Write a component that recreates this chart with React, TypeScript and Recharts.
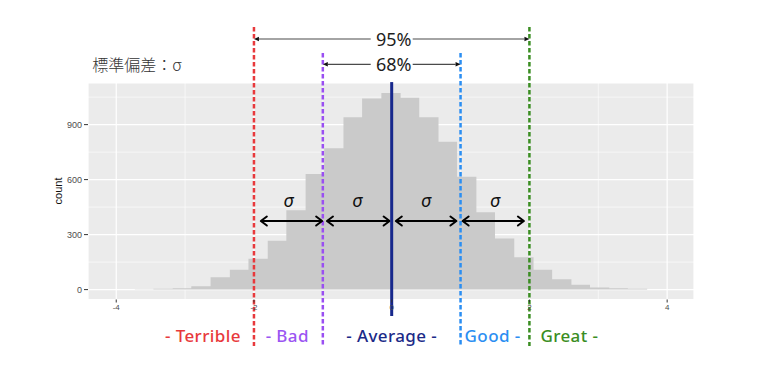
import React from 'react';
import {
  ComposedChart,
  Area,
  XAxis,
  YAxis,
  CartesianGrid,
  ReferenceLine,
  ReferenceDot,
} from 'recharts';

// histogram bins (left edges, last value closes the last bin) and counts
const binEdges = [
  -3.73, -3.46, -3.18, -2.91, -2.63, -2.35, -2.08, -1.8, -1.53, -1.25, -0.98, -0.7, -0.43, -0.15,
  0.13, 0.4, 0.68, 0.95, 1.23, 1.5, 1.78, 2.06, 2.33, 2.61, 2.88, 3.16, 3.43, 3.71,
];
const binCounts = [
  2, 4, 7, 18, 67, 108, 168, 267, 433, 631, 771, 940, 1042, 1073, 1047, 940, 807, 615, 422, 279,
  176, 108, 57, 27, 11, 7, 4,
];

const xTicks = [-4, -2, 0, 2, 4];
const xMinor = [-3, -1, 1, 3];
const yTicks = [0, 300, 600, 900];
const yMinor = [150, 450, 750, 1050];

// standard deviation markers
const sdMarks = [-2, -1, 1, 2];
const sdColors = ['#e8393c', '#9a4ff2', '#2b8ef2', '#3a8d22'];
const meanValue = 0;
const NAVY = '#17288c';

const categories = ['- Terrible', '- Bad', '- Average -', 'Good -', 'Great -'];
const categoryColors = ['#e8393c', '#9b55f2', '#1b2a88', '#2b8ef2', '#3a8d22'];

const sigmaRanges = [
  [-1.9, -1.01],
  [-0.94, -0.03],
  [0.06, 0.94],
  [1.03, 1.92],
];
const sigmaCenters = [-1.5, -0.5, 0.5, 1.5];

const histData = binEdges.map((x, i) => ({ x, count: i < binCounts.length ? binCounts[i] : 0 }));

// annotation placement, in data units
const X_DOMAIN = [-4.41, 4.39];
const Y_DOMAIN = [-54, 1127];
const LINE_BOTTOM = -308;
const OUTER_TOP = 1432;
const INNER_TOP = 1291;
const MEAN_TOP = 1132;
const MEAN_BOTTOM = -144;
const ARROW95_Y = 1367;
const ARROW68_Y = 1229;
const SIGMA_ARROW_Y = 374;
const SIGMA_TEXT_Y = 489;
const CATEGORY_Y = -251;
const categoryX = [-2.19, -1.83, 0, 1.465, 2.16];
const categoryAnchor = ['end', 'start', 'middle', 'middle', 'start'];

const LATIN = '"Noto Sans", "Liberation Sans", Arial, sans-serif';
const CJK = '"Noto Sans CJK JP", "Noto Sans", sans-serif';
const AXIS_FONT = '"Liberation Sans", Arial, sans-serif';

function AnnoText(props: any) {
  const { viewBox, text, color = '#222', size = 16, anchor = 'middle', italic, rotate, family = LATIN, spacing = 0, weight = 400 } = props;
  if (!viewBox) return null;
  const x = viewBox.x + viewBox.width / 2;
  const y = viewBox.y + viewBox.height / 2;
  return (
    <text
      x={x}
      y={y}
      fill={color}
      fontSize={size}
      fontFamily={family}
      fontWeight={weight}
      letterSpacing={spacing}
      textAnchor={anchor}
      dominantBaseline="central"
      fontStyle={italic ? 'italic' : 'normal'}
      transform={rotate ? `rotate(${rotate} ${x} ${y})` : undefined}
    >
      {text}
    </text>
  );
}

function PctText(props: any) {
  const { viewBox, text } = props;
  if (!viewBox) return null;
  const x = viewBox.x + viewBox.width / 2;
  const y = viewBox.y + viewBox.height / 2;
  return (
    <g>
      <rect x={x - 21} y={y - 10} width={42} height={20} fill="#fff" />
      <text x={x + 2} y={y} fill="#1e1e1e" fontSize={18} fontFamily={LATIN} textAnchor="middle" dominantBaseline="central">
        {text}
      </text>
    </g>
  );
}

const pointerArrow = (p: any) => {
  const { x1, y1, x2, y2 } = p;
  const h = 5;
  const w = 2.2;
  return (
    <g>
      <line x1={x1 + h} y1={y1} x2={x2 - h} y2={y2} stroke="#4a4a4a" strokeWidth={1.2} />
      <polygon points={`${x1},${y1} ${x1 + h},${y1 - w} ${x1 + h},${y1 + w}`} fill="#111" />
      <polygon points={`${x2},${y2} ${x2 - h},${y2 - w} ${x2 - h},${y2 + w}`} fill="#111" />
    </g>
  );
};

const doubleArrow = (p: any) => {
  const { x1, y1, x2, y2 } = p;
  const h = 6;
  const w = 4.5;
  return (
    <g fill="none" stroke="#000" strokeWidth={2} strokeLinecap="round" strokeLinejoin="round">
      <line x1={x1 + 1} y1={y1} x2={x2 - 1} y2={y2} />
      <path d={`M${x1 + h},${y1 - w} L${x1},${y1} L${x1 + h},${y1 + w}`} />
      <path d={`M${x2 - h},${y2 - w} L${x2},${y2} L${x2 - h},${y2 + w}`} />
    </g>
  );
};

export default function App() {
  return (
    <div style={{ position: 'absolute', left: 0, top: 0, width: 761, height: 385, background: '#fff' }}>
      <ComposedChart
        width={761}
        height={385}
        data={histData}
        margin={{ top: 83, right: 67, bottom: 54.5, left: 48 }}
        style={{ fontFamily: AXIS_FONT }}
      >
        <CartesianGrid fill="#ebebeb" stroke="#ffffff" strokeWidth={0.6} horizontalValues={yMinor} verticalValues={xMinor} />
        <CartesianGrid stroke="#ffffff" strokeWidth={1.2} />
        <XAxis
          dataKey="x"
          type="number"
          domain={X_DOMAIN}
          allowDataOverflow
          ticks={xTicks}
          interval={0}
          axisLine={false}
          tickSize={3}
          tickMargin={2}
          height={31}
          tickLine={{ stroke: '#333' }}
          tick={{ fontSize: 8, fill: '#4d4d4d' }}
        />
        <YAxis
          type="number"
          domain={Y_DOMAIN}
          allowDataOverflow
          ticks={yTicks}
          interval={0}
          axisLine={false}
          tickSize={4}
          tickMargin={2}
          width={40}
          tickLine={{ stroke: '#333' }}
          tick={{ fontSize: 9, fill: '#4d4d4d' }}
        />
        <Area
          type="stepAfter"
          dataKey="count"
          baseValue={0}
          fill="#cacaca"
          fillOpacity={1}
          stroke="none"
          dot={false}
          activeDot={false}
          isAnimationActive={false}
        />

        {sdMarks.map((m, i) => (
          <ReferenceLine
            key={`sd-${m}`}
            segment={[
              { x: m, y: Math.abs(m) === 2 ? OUTER_TOP : INNER_TOP },
              { x: m, y: LINE_BOTTOM },
            ]}
            ifOverflow="visible"
            stroke={sdColors[i]}
            strokeWidth={2.5}
            strokeDasharray="4.5 2.5"
          />
        ))}

        <ReferenceLine
          segment={[
            { x: -2, y: ARROW95_Y },
            { x: 2, y: ARROW95_Y },
          ]}
          ifOverflow="visible"
          shape={pointerArrow}
        />
        <ReferenceLine
          segment={[
            { x: -1, y: ARROW68_Y },
            { x: 1, y: ARROW68_Y },
          ]}
          ifOverflow="visible"
          shape={pointerArrow}
        />
        <ReferenceDot x={0} y={ARROW95_Y} r={1} fill="none" stroke="none" ifOverflow="visible" label={<PctText text="95%" />} />
        <ReferenceDot x={0} y={ARROW68_Y} r={1} fill="none" stroke="none" ifOverflow="visible" label={<PctText text="68%" />} />

        {sigmaRanges.map(([a, b]) => (
          <ReferenceLine
            key={`sig-${a}`}
            segment={[
              { x: a, y: SIGMA_ARROW_Y },
              { x: b, y: SIGMA_ARROW_Y },
            ]}
            ifOverflow="visible"
            shape={doubleArrow}
          />
        ))}
        {sigmaCenters.map((c) => (
          <ReferenceDot
            key={`sigt-${c}`}
            x={c}
            y={SIGMA_TEXT_Y}
            r={1}
            fill="none"
            stroke="none"
            ifOverflow="visible"
            label={<AnnoText text="σ" size={18} italic color="#111" />}
          />
        ))}

        <ReferenceLine
          segment={[
            { x: meanValue, y: MEAN_TOP },
            { x: meanValue, y: MEAN_BOTTOM },
          ]}
          ifOverflow="visible"
          stroke={NAVY}
          strokeWidth={3}
        />

        {categories.map((c, i) => (
          <ReferenceDot
            key={c}
            x={categoryX[i]}
            y={CATEGORY_Y}
            r={1}
            fill="none"
            stroke="none"
            ifOverflow="visible"
            label={<AnnoText text={c} size={17} spacing={0.4} weight={500} color={categoryColors[i]} anchor={categoryAnchor[i]} />}
          />
        ))}

        <ReferenceDot
          x={-4.35}
          y={1231}
          r={1}
          fill="none"
          stroke="none"
          ifOverflow="visible"
          label={<AnnoText text="標準偏差：σ" size={16} family={CJK} weight={300} color="#333" anchor="start" />}
        />
        <ReferenceDot
          x={-4.846}
          y={538}
          r={1}
          fill="none"
          stroke="none"
          ifOverflow="visible"
          label={<AnnoText text="count" size={11} color="#111" rotate={-90} family={AXIS_FONT} />}
        />
      </ComposedChart>
    </div>
  );
}
